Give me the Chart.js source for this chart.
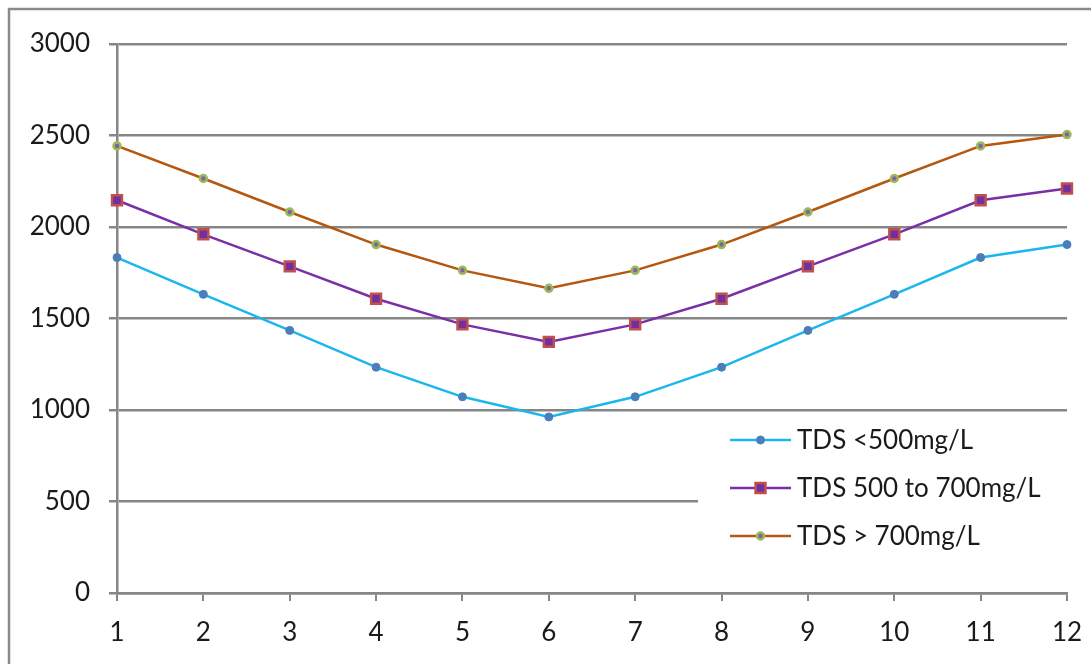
<!DOCTYPE html>
<html>
<head>
<meta charset="utf-8">
<script src="https://cdn.jsdelivr.net/npm/chart.js@4.4.1/dist/chart.umd.min.js"></script>
<style>
  html, body { margin: 0; padding: 0; background: #fff; }
  #wrap { position: relative; width: 1091px; height: 664px; }
</style>
</head>
<body>
<div id="wrap"><canvas id="c" width="1091" height="664"></canvas></div>
<script>
// データ
const months = ["1","2","3","4","5","6","7","8","9","10","11","12"];
const tdsLow  = [1833, 1632, 1435, 1234, 1072, 962, 1072, 1234, 1435, 1632, 1833, 1904];
const tdsMid  = [2146, 1960, 1785, 1608, 1468, 1372, 1468, 1608, 1785, 1960, 2146, 2210];
const tdsHigh = [2443, 2265, 2082, 1904, 1763, 1665, 1763, 1904, 2082, 2265, 2443, 2505];
const seriesNames = ["TDS <500mg/L", "TDS 500 to 700mg/L", "TDS > 700mg/L"];
const yTicks = [0, 500, 1000, 1500, 2000, 2500, 3000];

const FONT = "Lato, 'Open Sans', sans-serif";
const FSIZE = 26;
const GRID = "#868686";
const TEXT = "#1a1a1a";

// 外枠
const framePlugin = {
  id: "frame",
  beforeDraw(chart) {
    const ctx = chart.ctx;
    ctx.save();
    ctx.strokeStyle = "#8a8a8a";
    ctx.lineWidth = 2.5;
    ctx.strokeRect(9, 9, chart.width + 20, chart.height + 20);
    ctx.restore();
  }
};

// 凡例（プロット内右下、白背景）
const boxLegend = {
  id: "boxLegend",
  beforeDatasetsDraw(chart) {
    const ctx = chart.ctx, ca = chart.chartArea;
    const left = ca.right - 369, top = ca.top + 372;
    ctx.save();
    ctx.fillStyle = "#fff";
    ctx.fillRect(left, top, 370, 146);
    chart.data.datasets.forEach((ds, i) => {
      const y = top + 24 + i * 48;
      const x0 = left + 32, x1 = left + 93, xm = (x0 + x1) / 2;
      ctx.strokeStyle = ds.borderColor;
      ctx.lineWidth = ds.borderWidth;
      ctx.beginPath(); ctx.moveTo(x0, y); ctx.lineTo(x1, y); ctx.stroke();
      ctx.fillStyle = ds.pointBackgroundColor;
      ctx.strokeStyle = ds.pointBorderColor;
      ctx.lineWidth = ds.pointBorderWidth;
      ctx.beginPath();
      Chart.helpers.drawPoint(ctx, { pointStyle: ds.pointStyle, radius: ds.pointRadius, rotation: 0, borderWidth: ds.pointBorderWidth }, xm, y);
      ctx.fillStyle = TEXT;
      ctx.font = FSIZE + "px " + FONT;
      ctx.textBaseline = "middle";
      ctx.textAlign = "left";
      ctx.fillText(ds.label, x1 + 6, y + 1);
    });
    ctx.restore();
  }
};

new Chart(document.getElementById("c"), {
  type: "line",
  data: {
    labels: months,
    datasets: [
      {
        label: seriesNames[0], data: tdsLow,
        borderColor: "#1cb6ee", borderWidth: 2.5,
        pointStyle: "circle", pointRadius: 4,
        pointBackgroundColor: "#4a7ebb", pointBorderColor: "#4a7ebb", pointBorderWidth: 1
      },
      {
        label: seriesNames[1], data: tdsMid,
        borderColor: "#7a2fa6", borderWidth: 2.5,
        pointStyle: "rect", pointRadius: 7,
        pointBackgroundColor: "#7030a0", pointBorderColor: "#c0504d", pointBorderWidth: 2.5
      },
      {
        label: seriesNames[2], data: tdsHigh,
        borderColor: "#b5570e", borderWidth: 2.5,
        pointStyle: "circle", pointRadius: 3.5,
        pointBackgroundColor: "#8064a2", pointBorderColor: "#9bbb59", pointBorderWidth: 2.5
      }
    ]
  },
  options: {
    responsive: false,
    animation: false,
    layout: { padding: { top: 44, right: 24, left: 0, bottom: 0 } },
    plugins: { legend: { display: false }, tooltip: { enabled: false } },
    elements: { line: { tension: 0 } },
    scales: {
      x: {
        offset: false,
        grid: { drawOnChartArea: false, drawTicks: true, tickLength: 8, color: GRID, lineWidth: 2 },
        border: { color: GRID, width: 2.5 },
        ticks: { color: TEXT, font: { family: FONT, size: FSIZE }, padding: 16, maxRotation: 0, autoSkip: false },
        afterFit(s) { s.height = 71; s.paddingLeft = 0; s.paddingRight = 0; }
      },
      y: {
        min: 0, max: 3000,
        afterBuildTicks(s) { s.ticks = yTicks.map(v => ({ value: v })); },
        grid: { color: GRID, lineWidth: 2.5, tickLength: 8 },
        border: { color: GRID, width: 2.5 },
        ticks: { color: TEXT, font: { family: FONT, size: FSIZE }, padding: 19, callback: (v) => String(v) },
        afterFit(s) { s.width = 117; s.paddingTop = 0; s.paddingBottom = 0; }
      }
    }
  },
  plugins: [framePlugin, boxLegend]
});
</script>
</body>
</html>
